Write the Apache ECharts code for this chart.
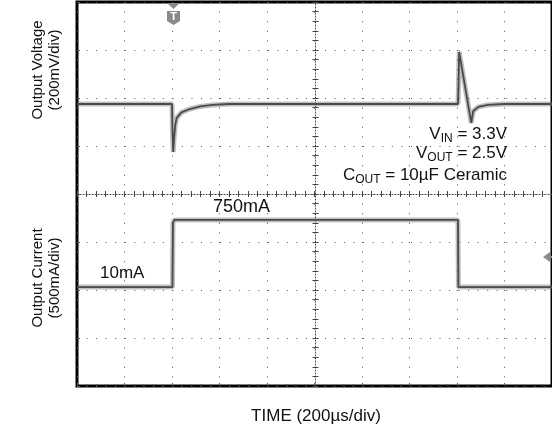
<!DOCTYPE html>
<html>
<head>
<meta charset="utf-8">
<script src="https://cdn.jsdelivr.net/npm/echarts@6/dist/echarts.min.js"></script>
<style>
html, body { margin: 0; padding: 0; background: #fff; }
#chart { width: 552px; height: 429px; }
</style>
</head>
<body>
<div id="chart"></div>
<script>
// time axis: 200us/div, 10 div
var timeMin = 0;
var timeMax = 2000;
var timeStep = 200;

// output voltage, deviation from 2.5V (mV)
var voltTime = [0, 400, 402, 405, 409, 414, 420, 440, 475, 520, 570, 640, 1604, 1606, 1609, 1660, 1668, 1690, 1730, 1800, 2000];
var voltMv   = [0, 0, -110, -200, -140, -85, -58, -35, -21, -10, -4, 0, 0, 60, 217, -79, -30, -12, -4, 0, 0];

// output current (mA)
var currTime = [0, 402, 404, 410, 1604, 1606, 2000];
var currMa   = [10, 10, 680, 710, 710, 10, 10];

function zip(a, b) {
  return a.map(function (v, i) { return [v, b[i]]; });
}

var chart = echarts.init(document.getElementById('chart'));
var FONT = "'Liberation Sans', Arial, sans-serif";

var centerX = {
  type: 'value', min: timeMin, max: timeMax, interval: timeStep,
  position: 'bottom', offset: -192,
  axisLine: { show: true, onZero: false, lineStyle: { color: '#444', width: 1, type: [1, 2] } },
  axisTick: { show: true, inside: true, length: 3, lineStyle: { color: '#444' } },
  minorTick: { show: true, splitNumber: 5, length: 3, lineStyle: { color: '#444' } },
  axisLabel: { show: false },
  splitLine: { show: false }
};
var centerY = {
  type: 'value', min: 0, max: 8, interval: 1,
  position: 'left', offset: -238.5,
  axisLine: { show: true, onZero: false, lineStyle: { color: '#444', width: 1, type: [1, 2] } },
  axisTick: { show: true, inside: true, length: 3, lineStyle: { color: '#444' } },
  minorTick: { show: true, splitNumber: 5, length: 3, lineStyle: { color: '#444' } },
  axisLabel: { show: false },
  splitLine: { show: false }
};

function txt(text, x, y, opts) {
  return {
    type: 'text', x: x, y: y, rotation: opts.rotation || 0, silent: true, z: 100,
    style: Object.assign({
      text: text, fill: opts.fill || '#111', font: (opts.weight || '') + ' ' + (opts.size || 15) + 'px ' + FONT,
      align: opts.align || 'left', verticalAlign: 'middle'
    }, opts.rich ? { rich: opts.rich } : {})
  };
}

var subRich = {
  m: { fontSize: 17, fontFamily: FONT, fill: '#111' },
  s: { fontSize: 12, fontFamily: FONT, fill: '#111', padding: [9, 0, 0, 0] }
};

var bandStyle = { width: 5, color: 'rgba(95,95,95,0.4)' };
var coreStyle = { width: 1.8, color: '#4a4a4a' };

var option = {
  animation: false,
  grid: {
    left: 77, top: 2, width: 477, height: 384,
    show: true, borderColor: '#000', borderWidth: 3, backgroundColor: 'transparent'
  },
  xAxis: [
    {
      type: 'value', min: timeMin, max: timeMax, interval: timeStep,
      axisLine: { show: false },
      axisTick: { show: true, inside: true, length: 3, lineStyle: { color: '#555' } },
      minorTick: { show: true, splitNumber: 5, length: 2, lineStyle: { color: '#555' } },
      axisLabel: { show: false },
      splitLine: { show: true, lineStyle: { color: '#555', width: 1, type: [1, 8.6] } }
    },
    Object.assign({}, centerX),
    Object.assign({}, centerX, { axisLine: { show: false, onZero: false }, axisTick: { show: true, inside: false, length: 3, lineStyle: { color: '#444' } } })
  ],
  yAxis: [
    {
      type: 'value', min: 0, max: 8, interval: 1,
      axisLine: { show: false },
      axisTick: { show: true, inside: true, length: 3, lineStyle: { color: '#555' } },
      minorTick: { show: true, splitNumber: 5, length: 2, lineStyle: { color: '#555' } },
      axisLabel: { show: false },
      splitLine: { show: true, lineStyle: { color: '#555', width: 1, type: [1, 8.54] } }
    },
    { type: 'value', min: -1175, max: 425, show: false },
    { type: 'value', min: -1020, max: 2980, show: false },
    Object.assign({}, centerY),
    Object.assign({}, centerY, { axisLine: { show: false, onZero: false }, axisTick: { show: true, inside: false, length: 3, lineStyle: { color: '#444' } } })
  ],
  series: [
    { type: 'line', yAxisIndex: 1, data: zip(voltTime, voltMv), showSymbol: false, silent: true, lineStyle: bandStyle },
    { type: 'line', yAxisIndex: 1, data: zip(voltTime, voltMv), showSymbol: false, silent: true, lineStyle: coreStyle },
    { type: 'line', yAxisIndex: 2, data: zip(currTime, currMa), showSymbol: false, silent: true, lineStyle: bandStyle },
    { type: 'line', yAxisIndex: 2, data: zip(currTime, currMa), showSymbol: false, silent: true, lineStyle: coreStyle }
  ],
  graphic: [
    txt('Output Voltage', 38, 70, { rotation: Math.PI / 2, align: 'center' }),
    txt('(200mV/div)', 55, 70, { rotation: Math.PI / 2, align: 'center' }),
    txt('Output Current', 38, 278, { rotation: Math.PI / 2, align: 'center' }),
    txt('(500mA/div)', 55, 278, { rotation: Math.PI / 2, align: 'center' }),
    txt('TIME (200\u00b5s/div)', 316, 416, { align: 'center', size: 17 }),
    txt('750mA', 213, 207, { size: 18 }),
    txt('10mA', 100, 273, { size: 17 }),
    txt('{m|V}{s|IN}{m| = 3.3V}', 507, 134, { align: 'right', rich: subRich }),
    txt('{m|V}{s|OUT}{m| = 2.5V}', 507, 153, { align: 'right', rich: subRich }),
    txt('{m|C}{s|OUT}{m| = 10\u00b5F Ceramic}', 507, 175, { align: 'right', rich: subRich }),
    // trigger marker
    { type: 'polygon', silent: true, z: 100, shape: { points: [[167, 3], [180, 3], [173.5, 9]] }, style: { fill: '#8a8a8a' } },
    { type: 'polygon', silent: true, z: 100, shape: { points: [[167, 11], [180, 11], [180, 21], [173.5, 25], [167, 21]] }, style: { fill: '#8a8a8a' } },
    txt('T', 173.5, 17, { size: 11, align: 'center', fill: '#fff', weight: 'bold' }),
    // ground level marker
    { type: 'polygon', silent: true, z: 100, shape: { points: [[543, 257], [550, 252], [550, 262]] }, style: { fill: '#8a8a8a' } },
    { type: 'rect', silent: true, z: 100, shape: { x: 549, y: 256, width: 3, height: 2 }, style: { fill: '#8a8a8a' } }
  ]
};

chart.setOption(option);
</script>
</body>
</html>
